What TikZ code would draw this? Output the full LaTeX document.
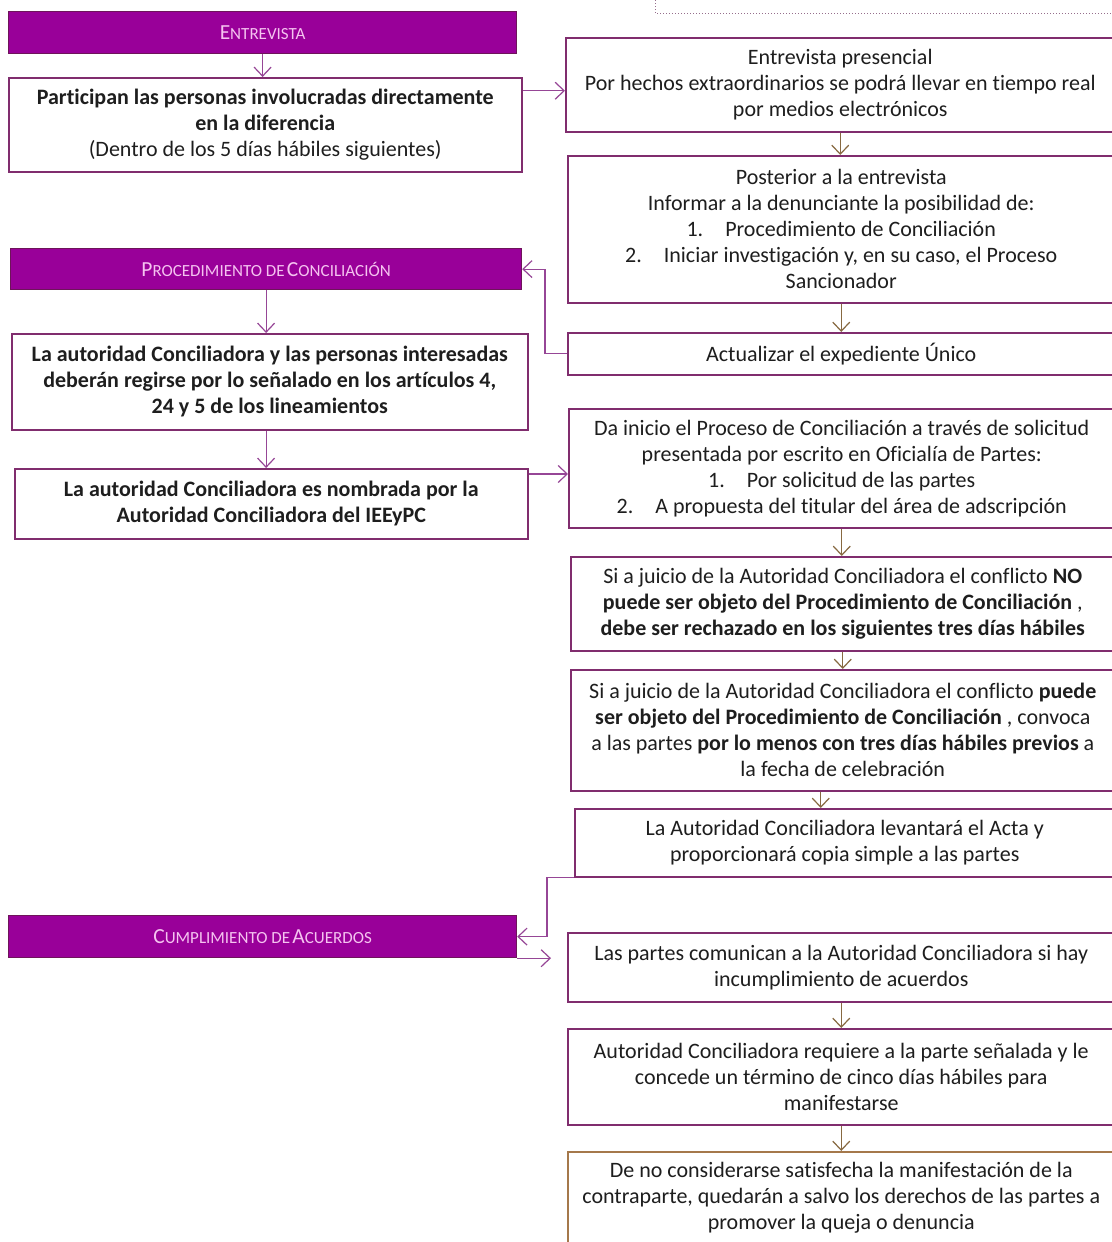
\documentclass[tikz,border=0pt]{standalone}
\usepackage{fontspec}
\setmainfont{Carlito}[Ligatures=NoCommon]
\usetikzlibrary{arrows.meta}
\definecolor{hdrfill}{RGB}{153,0,153}
\definecolor{hdrline}{RGB}{110,20,90}
\definecolor{hdrtext}{RGB}{245,195,240}
\definecolor{boxline}{RGB}{128,45,110}
\definecolor{parrow}{RGB}{150,70,150}
\definecolor{barrow}{RGB}{135,105,65}
\definecolor{brownline}{RGB}{165,120,75}
\definecolor{txt}{RGB}{30,30,30}
\definecolor{dotline}{RGB}{150,110,140}
\newcommand{\hsc}[2]{{\fontsize{21.5}{22}\selectfont #1}{\fontsize{17}{22}\selectfont #2}}
\tikzset{
  hdr/.style={draw=hdrline, line width=1.2pt, fill=hdrfill, text=hdrtext, anchor=north west, inner sep=0pt},
  box/.style={draw=boxline, line width=1.5pt, fill=white, text=txt, align=center, anchor=north west, inner sep=0pt, font=\fontsize{22}{26}\selectfont},
  bbox/.style={box, font=\bfseries\fontsize{22}{26}\selectfont},
  brownbox/.style={box, draw=brownline},
  parr/.style={draw=parrow, line width=1.2pt, -{Straight Barb[length=9pt,width=17pt,line width=1.2pt]}},
  barr/.style={draw=barrow, line width=1.2pt, -{Straight Barb[length=9pt,width=17pt,line width=1.2pt]}},
}
\begin{document}
\begin{tikzpicture}[x=1pt,y=-1pt]
\useasboundingbox[fill=white] (0,0) rectangle (1111,1242);
% cropped dotted frame at top right
\coordinate (d1) at (655,0);
\coordinate (d2) at (655,13);
\coordinate (d3) at (1115,13);
\draw[dotline, dotted, line width=1pt] (d1) -- (d2) -- (d3);

% left column
\node[hdr, minimum width=508, minimum height=42] (h1) at (8,11) {\hsc{E}{NTREVISTA}};
\node[box, minimum width=513, minimum height=94] (b1) at (8,77)
  {\textbf{Participan las personas involucradas directamente}\\\textbf{en la diferencia}\\(Dentro de los 5 días hábiles siguientes)};
\node[hdr, minimum width=511, minimum height=41] (h2) at (10,248) {\hsc{P}{ROCEDIMIENTO DE} \hsc{C}{ONCILIACIÓN}};
\node[bbox, minimum width=516, minimum height=96] (l2) at (11,333)
  {La autoridad Conciliadora y las personas interesadas\\deberán regirse por lo señalado en los artículos 4,\\24 y 5 de los lineamientos};
\node[bbox, minimum width=513, minimum height=70] (l3) at (14,468)
  {La autoridad Conciliadora es nombrada por la\\Autoridad Conciliadora del IEEyPC};
\node[hdr, minimum width=508, minimum height=42] (h3) at (8,915) {\hsc{C}{UMPLIMIENTO DE} \hsc{A}{CUERDOS}};

% right column
\node[box, minimum width=549, minimum height=94] (r1) at (565,37)
  {Entrevista presencial\\Por hechos extraordinarios se podrá llevar en tiempo real\\por medios electrónicos};
\node[box, minimum width=547, minimum height=147] (r2) at (567,155)
  {Posterior a la entrevista\\Informar a la denunciante la posibilidad de:\\1.\quad Procedimiento de Conciliación\\2.\quad Iniciar investigación y, en su caso, el Proceso\\Sancionador};
\node[box, minimum width=547, minimum height=42] (r3) at (567,332) {Actualizar el expediente Único};
\node[box, minimum width=546, minimum height=119] (r4) at (568,408)
  {Da inicio el Proceso de Conciliación a través de solicitud\\presentada por escrito en Oficialía de Partes:\\1.\quad Por solicitud de las partes\\2.\quad A propuesta del titular del área de adscripción};
\node[box, minimum width=544, minimum height=94] (r5) at (570,556)
  {Si a juicio de la Autoridad Conciliadora el conflicto \textbf{NO}\\\textbf{puede ser objeto del Procedimiento de Conciliación} ,\\\textbf{debe ser rechazado en los siguientes tres días hábiles}};
\node[box, minimum width=544, minimum height=121] (r6) at (570,669)
  {Si a juicio de la Autoridad Conciliadora el conflicto \textbf{puede}\\\textbf{ser objeto del Procedimiento de Conciliación} , convoca\\a las partes \textbf{por lo menos con tres días hábiles previos} a\\la fecha de celebración};
\node[box, minimum width=540, minimum height=68] (r7) at (574,808)
  {La Autoridad Conciliadora levantará el Acta y\\proporcionará copia simple a las partes};
\node[box, minimum width=547, minimum height=69] (r8) at (567,932)
  {Las partes comunican a la Autoridad Conciliadora si hay\\incumplimiento de acuerdos};
\node[box, minimum width=547, minimum height=96] (r9) at (567,1028)
  {Autoridad Conciliadora requiere a la parte señalada y le\\concede un término de cinco días hábiles para\\manifestarse};
\node[brownbox, minimum width=547, minimum height=92] (r10) at (567,1151)
  {De no considerarse satisfecha la manifestación de la\\contraparte, quedarán a salvo los derechos de las partes a\\promover la queja o denuncia};

% connectors left
\draw[parr] (h1.south) -- (h1.south |- b1.north);
\draw[parr] ([yshift=-6pt]r1.west -| b1.east) -- ([yshift=-6pt]r1.west);
\draw[parr] (h2.south) -- (h2.south |- l2.north);
\draw[parr] (l2.south -| h2.south) -- (h2.south |- l3.north);
\draw[parr] (r3.west) -- ++(-22,0) |- (h2.east);
\draw[parr] ([yshift=-6pt]l3.north east) -- ([yshift=-6pt]l3.north east -| r4.west);
\draw[parr] (r7.south west) -- ++(-27,0) |- (h3.east);
\draw[parr, shorten >=16pt] (h3.south east) -- (h3.south east -| r8.west);

% connectors right
\draw[barr] (r1.south) -- (r1.south |- r2.north);
\draw[barr] (r2.south) -- (r2.south |- r3.north);
\draw[barr] (r4.south) -- (r4.south |- r5.north);
\draw[barr] (r5.south) -- (r5.south |- r6.north);
\draw[barr] ([xshift=-22pt]r6.south) -- ([xshift=-22pt]r6.south |- r7.north);
\draw[barr] (r8.south) -- (r8.south |- r9.north);
\draw[barr] (r9.south) -- (r9.south |- r10.north);
\end{tikzpicture}
\end{document}
